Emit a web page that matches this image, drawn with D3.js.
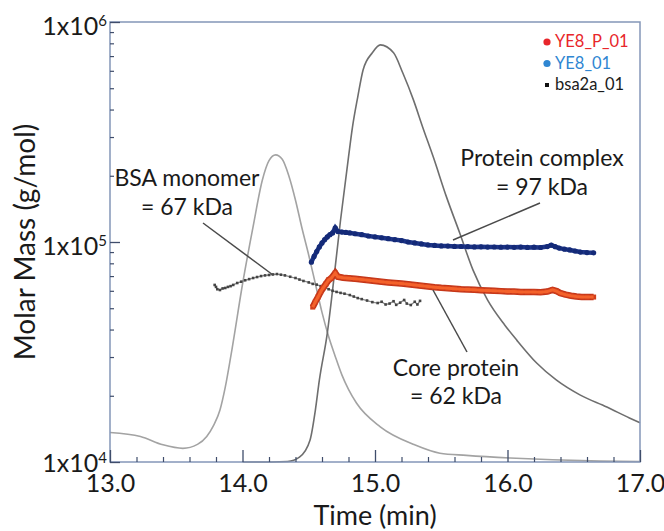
<!DOCTYPE html>
<html>
<head>
<meta charset="utf-8">
<script src="https://cdn.jsdelivr.net/npm/d3@7"></script>
<style>
  body { margin: 0; background: #fff; }
  svg { display: block; }
  text { font-family: Lato, "Open Sans", sans-serif; fill: #1a1a1a; }
</style>
</head>
<body>
<svg id="chart" width="664" height="531"></svg>
<script>
// axis ticks
const timeTicks = [13, 14, 15, 16, 17];
const massTicks = [1e4, 1e5, 1e6];

// molar mass points [time (min), g/mol]
const complexData = [
  [14.52, 81000], [14.54, 86000], [14.56, 90500], [14.58, 95000], [14.60, 99000],
  [14.62, 102500], [14.64, 105500], [14.66, 108000], [14.68, 110000], [14.70, 116000],
  [14.72, 111500], [14.75, 111000], [14.78, 110500], [14.81, 110000], [14.85, 109000],
  [14.90, 108000], [14.95, 106500], [15.00, 105500], [15.05, 104500], [15.10, 103500],
  [15.15, 102500], [15.20, 101500], [15.25, 100000], [15.30, 99000], [15.35, 98000],
  [15.40, 97000], [15.45, 96500], [15.50, 96000], [15.55, 95800], [15.60, 95500],
  [15.65, 95400], [15.70, 95200], [15.75, 95000], [15.80, 95100], [15.85, 94800],
  [15.90, 94900], [15.95, 94700], [16.00, 94800], [16.05, 94600], [16.10, 94800],
  [16.15, 94500], [16.20, 94700], [16.25, 94400], [16.30, 95300], [16.33, 96800],
  [16.36, 95200], [16.39, 93800], [16.43, 92800], [16.47, 92000], [16.51, 91000],
  [16.55, 90000], [16.60, 89500], [16.65, 89300]
];
const coreData = [
  [14.53, 50600], [14.55, 53500], [14.57, 56200], [14.59, 59400], [14.61, 62000],
  [14.63, 64500], [14.65, 67200], [14.67, 68500], [14.70, 72300], [14.72, 69500],
  [14.76, 68800], [14.80, 68500], [14.85, 68000], [14.90, 67500], [14.95, 67000],
  [15.00, 66500], [15.05, 66000], [15.10, 65500], [15.15, 65100], [15.20, 64700],
  [15.25, 64300], [15.30, 63800], [15.35, 63300], [15.40, 62800], [15.45, 62300],
  [15.50, 61900], [15.55, 61600], [15.60, 61300], [15.65, 61000], [15.70, 60800],
  [15.75, 60600], [15.80, 60400], [15.85, 60200], [15.90, 60000], [15.95, 59800],
  [16.00, 59600], [16.05, 59500], [16.10, 59300], [16.15, 59200], [16.20, 59300],
  [16.25, 59100], [16.30, 59500], [16.34, 60600], [16.37, 59800], [16.40, 58500],
  [16.44, 57600], [16.48, 57000], [16.52, 56500], [16.56, 56300], [16.60, 56200],
  [16.65, 56200]
];
const bsaData = [
  [13.79, 63800], [13.80, 62500], [13.81, 61000], [13.83, 60500], [13.85, 61500],
  [13.87, 61800], [13.89, 62500], [13.91, 63000], [13.93, 63800], [13.96, 65100],
  [13.99, 66000], [14.02, 67000], [14.05, 67800], [14.08, 68600], [14.11, 69300],
  [14.14, 70000], [14.17, 70500], [14.20, 70800], [14.23, 71200], [14.26, 71500],
  [14.29, 71000], [14.32, 70500], [14.36, 69500], [14.40, 68600], [14.43, 67500],
  [14.46, 66500], [14.50, 65500], [14.53, 64500], [14.56, 64000], [14.59, 63000],
  [14.62, 61800], [14.65, 61000], [14.68, 60000], [14.71, 59300], [14.74, 58700],
  [14.77, 58200], [14.81, 57400], [14.84, 56500], [14.87, 55600], [14.90, 55000],
  [14.94, 54200], [14.98, 53300], [15.02, 52800], [15.05, 53500], [15.08, 52000],
  [15.11, 52500], [15.14, 53800], [15.16, 51800], [15.19, 53000], [15.22, 54500],
  [15.24, 52500], [15.27, 51700], [15.30, 53500], [15.32, 52000], [15.34, 54000]
];

// detector traces [time (min), relative signal]
const bsaTrace = [
  [13.00, 0.067], [13.23, 0.058], [13.40, 0.039], [13.55, 0.031], [13.66, 0.040],
  [13.73, 0.058], [13.78, 0.082], [13.83, 0.118], [13.87, 0.170], [13.92, 0.255],
  [14.00, 0.404], [14.08, 0.535], [14.15, 0.641], [14.20, 0.685], [14.25, 0.698],
  [14.30, 0.688], [14.35, 0.650], [14.40, 0.595], [14.45, 0.530], [14.50, 0.470],
  [14.55, 0.405], [14.60, 0.340], [14.65, 0.285], [14.70, 0.240], [14.75, 0.198],
  [14.80, 0.165], [14.86, 0.134], [15.04, 0.080], [15.30, 0.039], [15.49, 0.020],
  [15.69, 0.015], [16.02, 0.009], [16.34, 0.005], [16.70, 0.002], [17.00, 0.001]
];
const ye8Trace = [
  [14.00, 0.000], [14.22, 0.000], [14.34, 0.001], [14.43, 0.011], [14.51, 0.050],
  [14.55, 0.118], [14.58, 0.186], [14.64, 0.293], [14.68, 0.391], [14.74, 0.550],
  [14.80, 0.693], [14.83, 0.761], [14.87, 0.830], [14.91, 0.891], [14.98, 0.930],
  [15.04, 0.948], [15.14, 0.930], [15.21, 0.884], [15.29, 0.823], [15.36, 0.761],
  [15.44, 0.693], [15.54, 0.602], [15.64, 0.520], [15.74, 0.436], [15.85, 0.368],
  [15.98, 0.311], [16.07, 0.277], [16.22, 0.225], [16.37, 0.186], [16.55, 0.152],
  [16.75, 0.125], [16.92, 0.100], [17.00, 0.089]
];

const legendNames = ["YE8_P_01", "YE8_01", "bsa2a_01"];

const svg = d3.select("#chart");
const mLeft = 110, mRight = 640, mTop = 22, mBottom = 462;

const x = d3.scaleLinear().domain([13, 17]).range([mLeft, mRight]);
const y = d3.scaleLog().domain([1e4, 1e6]).range([mBottom, mTop]);
const ySig = d3.scaleLinear().domain([0, 1]).range([mBottom, mTop]);

const axisCol = "#8496b8";
const tickCol = "#3f4d6b";

// detector traces
const traceLine = d3.line().x(d => x(d[0])).y(d => ySig(d[1])).curve(d3.curveMonotoneX);
svg.append("path").datum(bsaTrace).attr("d", traceLine)
  .attr("fill", "none").attr("stroke", "#a3a3a3").attr("stroke-width", 1.6);
svg.append("path").datum(ye8Trace).attr("d", traceLine)
  .attr("fill", "none").attr("stroke", "#6e6e6e").attr("stroke-width", 1.6);

// molar mass series
const massLine = d3.line().x(d => x(d[0])).y(d => y(d[1]));

svg.append("path").datum(bsaData).attr("d", massLine)
  .attr("fill", "none").attr("stroke", "#8a8a8a").attr("stroke-width", 1.3);
svg.selectAll(".bsa").data(bsaData).enter().append("rect")
  .attr("x", d => x(d[0]) - 1.3).attr("y", d => y(d[1]) - 1.3)
  .attr("width", 2.6).attr("height", 2.6).attr("fill", "#444");

svg.append("path").datum(complexData).attr("d", massLine)
  .attr("fill", "none").attr("stroke", "#1d3588").attr("stroke-width", 4.5);
svg.selectAll(".cplx").data(complexData).enter().append("circle")
  .attr("cx", d => x(d[0])).attr("cy", d => y(d[1])).attr("r", 2.6)
  .attr("fill", "#142a78");

svg.append("path").datum(coreData).attr("d", massLine)
  .attr("fill", "none").attr("stroke", "#c2361a").attr("stroke-width", 6.5);
svg.selectAll(".core").data(coreData).enter().append("rect")
  .attr("x", d => x(d[0]) - 2.5).attr("y", d => y(d[1]) - 2.5)
  .attr("width", 5).attr("height", 5).attr("fill", "#d23f1c");
svg.append("path").datum(coreData).attr("d", massLine)
  .attr("fill", "none").attr("stroke", "#f4622b").attr("stroke-width", 3);

// frame
svg.append("rect").attr("x", mLeft).attr("y", mTop)
  .attr("width", mRight - mLeft).attr("height", mBottom - mTop)
  .attr("fill", "none").attr("stroke", axisCol).attr("stroke-width", 1.5);

// x axis, ticks inside
const xMajor = d3.axisBottom(x).tickValues(timeTicks).tickSize(-12).tickFormat(d3.format(".1f"));
const gx = svg.append("g").attr("transform", `translate(0,${mBottom})`).call(xMajor);
gx.select(".domain").remove();
gx.selectAll("line").attr("stroke", tickCol).attr("stroke-width", 1.3);
gx.selectAll("text").attr("y", 30).attr("dy", null)
  .style("font-size", "25px").style("font-family", "Lato, sans-serif").attr("fill", "#1a1a1a");

const minorT = d3.range(13.2, 17, 0.2).filter(v => Math.abs(v - Math.round(v)) > 0.01);
const gxm = svg.append("g").attr("transform", `translate(0,${mBottom})`)
  .call(d3.axisBottom(x).tickValues(minorT).tickSize(-5).tickFormat(""));
gxm.select(".domain").remove();
gxm.selectAll("line").attr("stroke", tickCol).attr("stroke-width", 1.2);

// y axis, log ticks inside
const gy = svg.append("g").attr("transform", `translate(${mLeft},0)`)
  .call(d3.axisLeft(y).tickValues(massTicks).tickSize(-10).tickFormat(""));
gy.select(".domain").remove();
gy.selectAll("line").attr("stroke", tickCol).attr("stroke-width", 1.3);

const minorM = [];
[1e4, 1e5].forEach(b => { for (let k = 2; k <= 9; k++) minorM.push(b * k); });
const gym = svg.append("g").attr("transform", `translate(${mLeft},0)`)
  .call(d3.axisLeft(y).tickValues(minorM).tickSize(-4).tickFormat(""));
gym.select(".domain").remove();
gym.selectAll("line").attr("stroke", tickCol).attr("stroke-width", 1.2);

// y tick labels 1x10^n
massTicks.forEach(m => {
  const t = svg.append("text").attr("x", mLeft - 3).attr("y", y(m) + (m === 1e4 ? 10 : 13))
    .attr("text-anchor", "end").style("font-size", "25px");
  t.append("tspan").text("1x10");
  t.append("tspan").attr("dy", -9).style("font-size", "15px").text(Math.round(Math.log10(m)));
});

// axis titles
svg.append("text").attr("x", x(15)).attr("y", 525).attr("text-anchor", "middle")
  .style("font-size", "27px").text("Time (min)");
svg.append("text").attr("transform", `translate(35,${(mTop + mBottom) / 2}) rotate(-90)`)
  .attr("text-anchor", "middle").style("font-size", "28px").text("Molar Mass (g/mol)");

// annotations
const leader = [[203, 223, 273, 275], [540, 203, 453, 240], [433, 290, 467, 352]];
leader.forEach(l => {
  svg.append("line").attr("x1", l[0]).attr("y1", l[1]).attr("x2", l[2]).attr("y2", l[3])
    .attr("stroke", "#4a4a4a").attr("stroke-width", 1.5);
});
const notes = [
  ["BSA monomer", 187, 186], ["= 67 kDa", 187, 215],
  ["Protein complex", 542, 166], ["= 97 kDa", 542, 195],
  ["Core protein", 456, 376], ["= 62 kDa", 456, 404]
];
notes.forEach(n => {
  svg.append("text").attr("x", n[1]).attr("y", n[2]).attr("text-anchor", "middle")
    .style("font-size", "23px").text(n[0]);
});

// legend
const legendCols = ["#e8262b", "#2f86d2", "#1a1a1a"];
legendNames.forEach((name, i) => {
  const ly = 47 + i * 21.5;
  if (i < 2) {
    svg.append("circle").attr("cx", 547).attr("cy", ly - 5).attr("r", 3.6).attr("fill", legendCols[i]);
  } else {
    svg.append("rect").attr("x", 545).attr("y", ly - 7).attr("width", 4).attr("height", 4).attr("fill", "#111");
  }
  svg.append("text").attr("x", 555).attr("y", ly).style("font-size", "16.5px")
    .style("fill", legendCols[i]).text(name);
});
</script>
</body>
</html>
